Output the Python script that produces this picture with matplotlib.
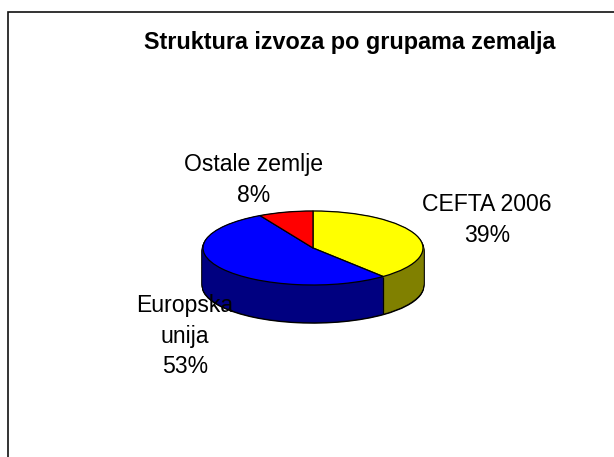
import numpy as np
import matplotlib
matplotlib.use("Agg")
import matplotlib.pyplot as plt
from matplotlib.patches import Rectangle

plt.rcParams["font.family"] = ["Liberation Sans", "DejaVu Sans"]

naslov = "Struktura izvoza po grupama zemalja"
kategorije = ["CEFTA 2006", "Europska\nunija", "Ostale zemlje"]
udjeli = [39, 53, 8]
boje_vrh = ["#ffff00", "#0000ff", "#ff0000"]
boje_bok = ["#808000", "#000080", "#800000"]

W, H = 614, 457
fig = plt.figure(figsize=(W / 100, H / 100), dpi=100)

def px(x, y):
    # piksel (od gornjeg lijevog kuta) -> koordinate figure
    return x / W, 1 - y / H

# okvir grafikona (desni i donji rub izlaze iz slike)
fig.add_artist(Rectangle(px(8, 500), 1.2, (500 - 12) / H, transform=fig.transFigure,
                         fill=False, edgecolor="#111111", linewidth=1.2))

# osi za "3D" pitu: 1 jedinica = 110 px vodoravno, 37 px okomito
cx, cy, a, b = 313, 248, 110, 37
left, _ = px(cx - 1.5 * a, 0)
_, bottom = px(0, cy + 2.5 * b)
ax = fig.add_axes([left, bottom, 3 * a / W, 4 * b / H])

dubina = 1.0
razine = np.linspace(dubina, 0, 70)
kw = dict(startangle=90, counterclock=False, normalize=True)

# crni obrub bocne stranice
for h in razine:
    ax.pie(udjeli, colors=["black"] * 3, radius=1.012, center=(0, -h - 0.035),
           wedgeprops=dict(linewidth=0), **kw)
# tamna bocna stranica
for h in razine:
    kriske, _ = ax.pie(udjeli, colors=boje_bok, radius=1, center=(0, -h),
                       wedgeprops=dict(linewidth=0.4), **kw)
    for w, c in zip(kriske, boje_bok):
        w.set_edgecolor(c)

# okomite granice izmedju kriski na prednjoj strani
kut = np.deg2rad(90 - 360 * np.cumsum(udjeli) / np.sum(udjeli))
prednje = np.sin(kut) < 0
ax.vlines(np.cos(kut[prednje]), np.sin(kut[prednje]) - dubina, np.sin(kut[prednje]),
          colors="black", linewidth=0.9, zorder=5)

# gornja ploha
ax.pie(udjeli, colors=boje_vrh, radius=1, center=(0, 0),
       wedgeprops=dict(linewidth=0.9, edgecolor="black", zorder=6), **kw)

ax.set_aspect("auto")
ax.set_xlim(-1.5, 1.5)
ax.set_ylim(-2.5, 1.5)
ax.axis("off")

# naslov i oznake
fig.text(*px(350, 43), naslov, ha="center", va="center", fontsize=16.8, fontweight="bold")
pozicije = [(487, 220), (185, 336), (254, 180)]
for k, u, (x, y) in zip(kategorije, udjeli, pozicije):
    fig.text(*px(x, y), f"{k}\n{u}%", ha="center", va="center", fontsize=16.6,
             multialignment="center", linespacing=1.4)

fig.savefig("out.png", dpi=100)
